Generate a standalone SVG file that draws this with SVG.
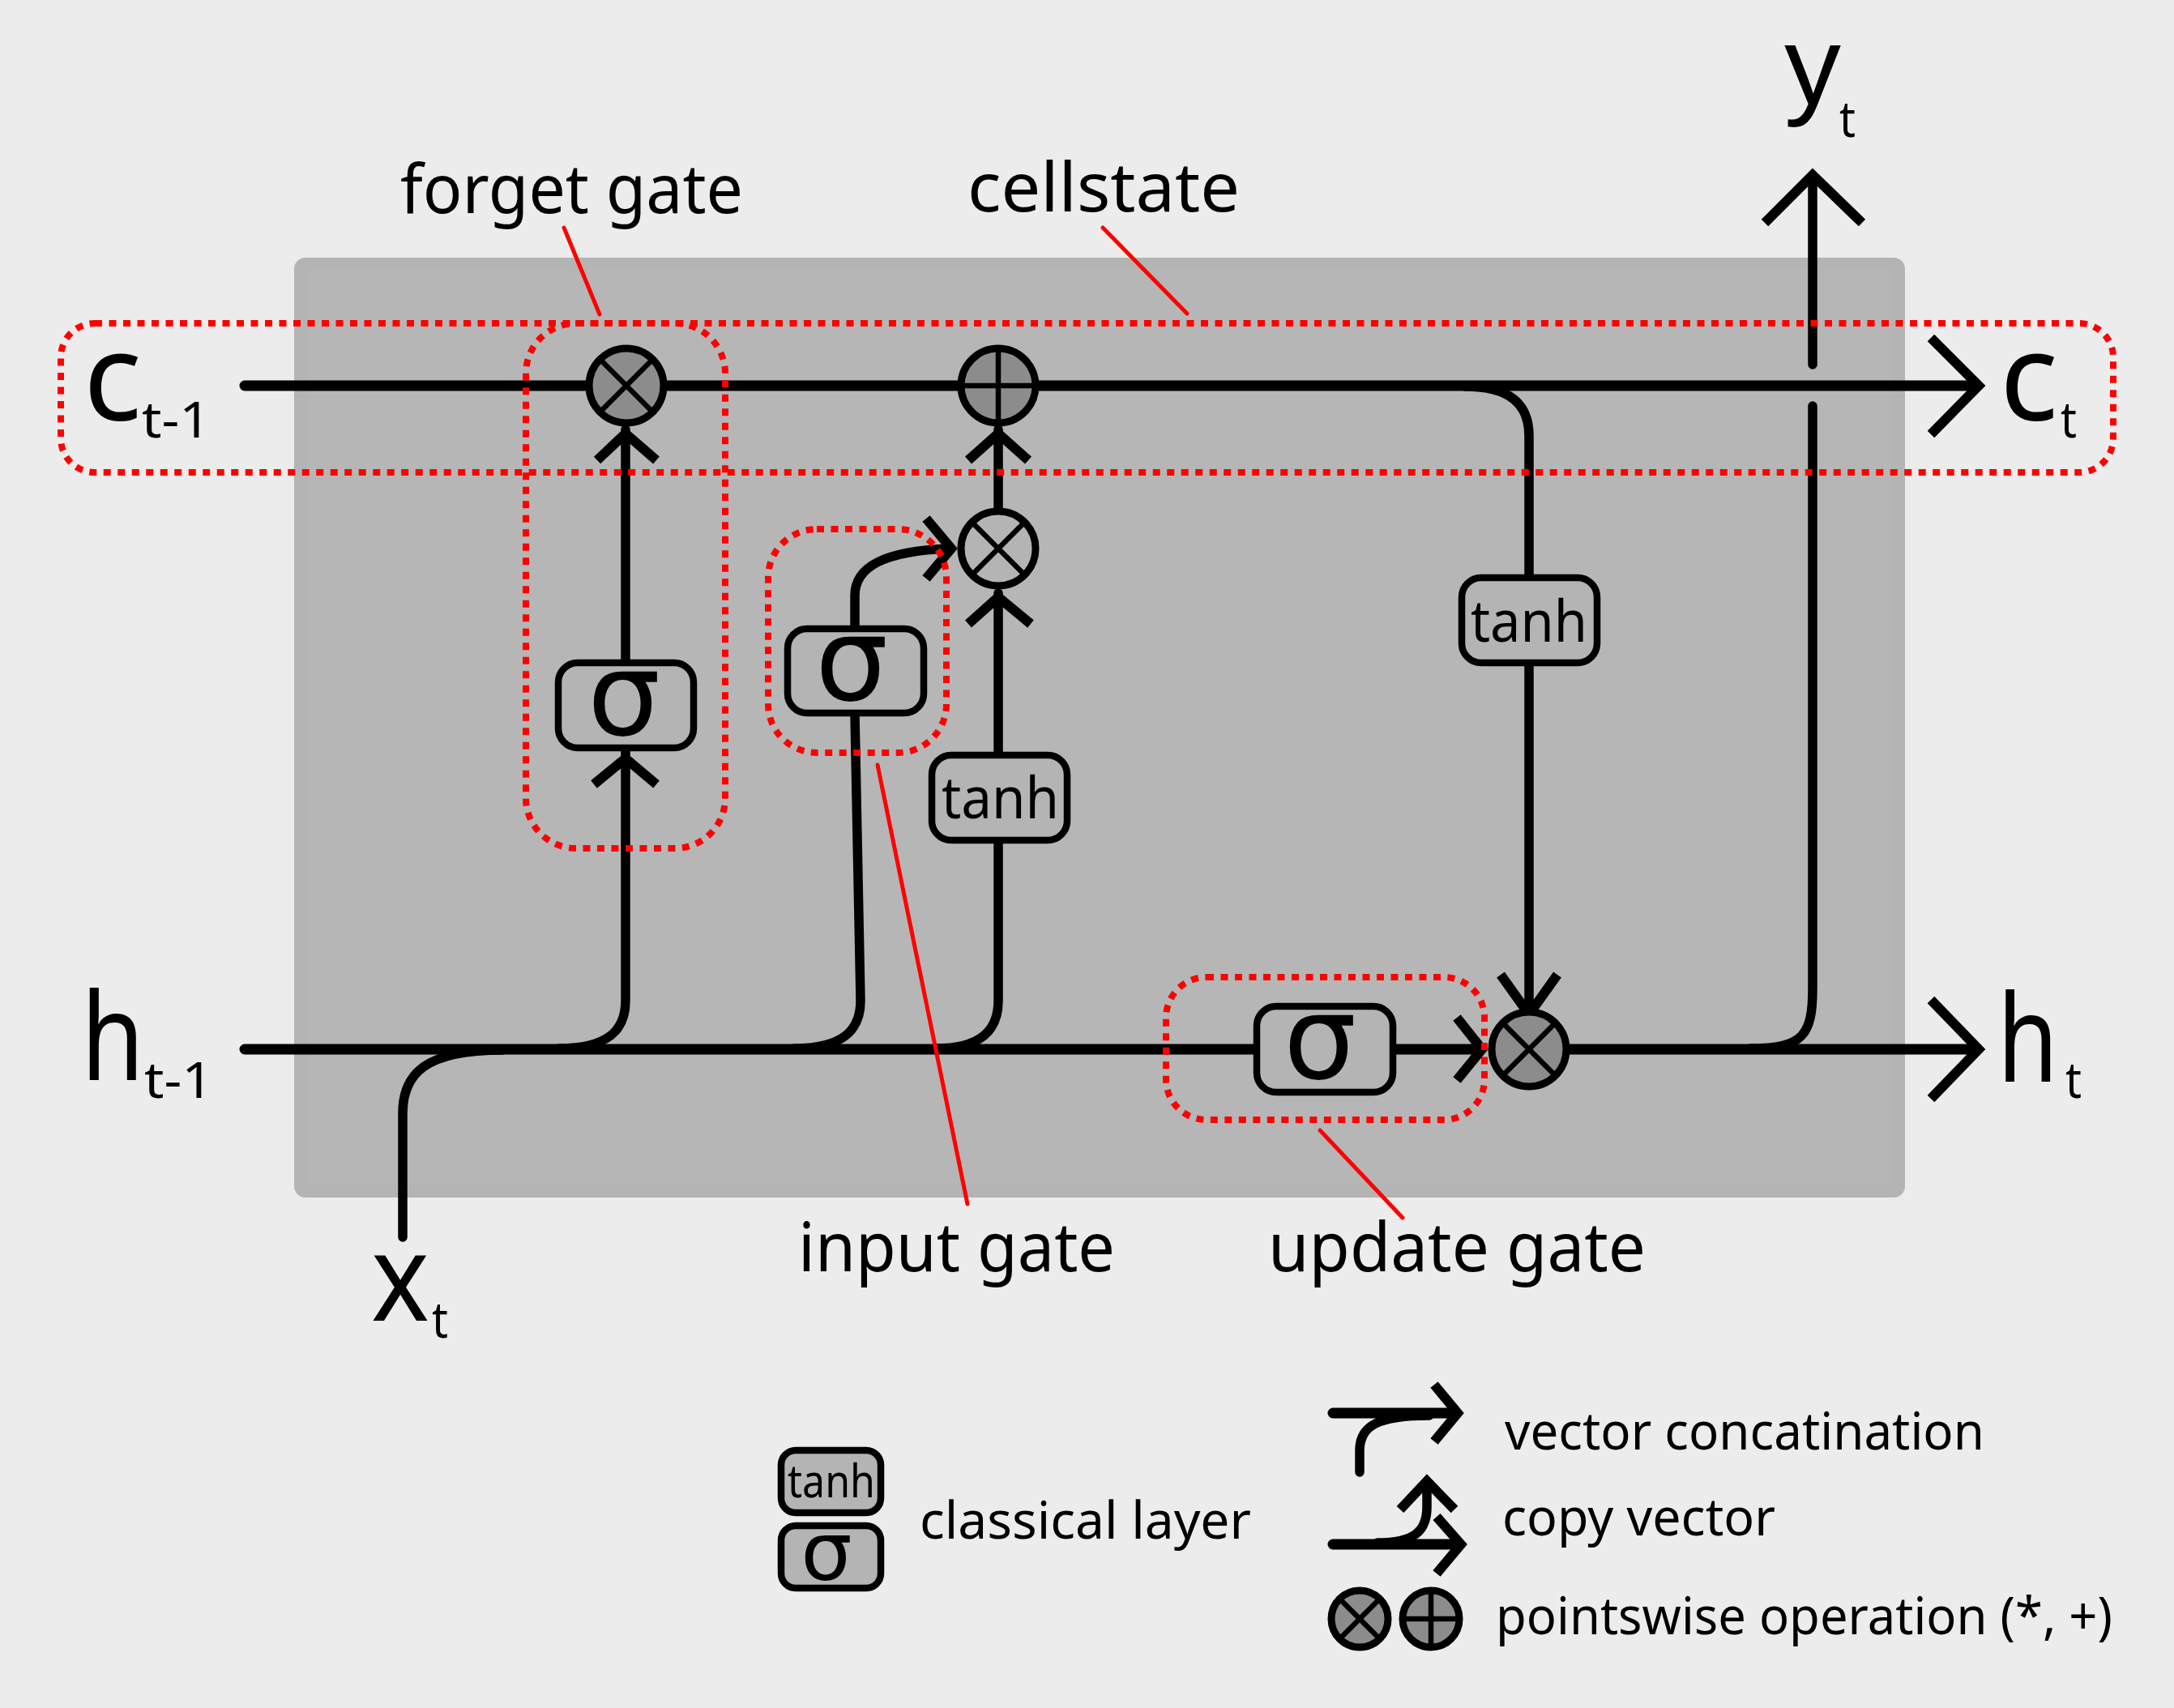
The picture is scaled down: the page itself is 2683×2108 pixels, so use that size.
<svg xmlns="http://www.w3.org/2000/svg" width="2683" height="2108" viewBox="0 0 2683 2108">
<style>
.w{fill:none;stroke:#000;stroke-width:11.5;stroke-linecap:round}
.t{fill:none;stroke:#000;stroke-width:13;stroke-linecap:round}
.h{fill:none;stroke:#000;stroke-width:12;stroke-linejoin:miter}
.g{stroke:#000;stroke-width:9;fill:#8c8c8c}
.gs{stroke:#000;stroke-width:9;fill:#b4b4b4}
.x{stroke:#000;stroke-width:6.5;fill:none}
.b{stroke:#000;stroke-width:8.5;fill:#b4b4b4}
.d{fill:none;stroke:#f00;stroke-width:8;stroke-dasharray:9 8.5}
.r{fill:none;stroke:#f00;stroke-width:5;stroke-linecap:round}
text{font-family:"Noto Sans","Open Sans",sans-serif;fill:#000}
.m{font-size:150px}
.s{font-size:62px}
.l{font-size:84px}
.k{font-size:64px}
.sg{font-family:"DejaVu Sans",sans-serif;text-anchor:middle;font-size:142px}
</style>
<rect width="2683" height="2108" fill="#ececec"/>
<g id="panel">
<rect x="363" y="318" width="1988" height="1160" rx="14" fill="#b4b4b4"/>
<rect x="379" y="334" width="1955" height="1127" fill="#b6b6b6"/>
</g>
<g id="connectors">
<path class="t" d="M302 476H2440"/>
<path class="t" d="M302 1295H1825M1887 1295H2440"/>
<path class="w" d="M772 530V1235C772 1272 750 1294 690 1294"/>
<path class="w" d="M1055 882L1062 1235C1062 1272 1040 1294 980 1294"/>
<path class="w" d="M1232 530V627M1232 732V1235C1232 1272 1210 1294 1154 1294"/>
<path class="w" d="M497 1527V1374C497 1325 525 1296 620 1296"/>
<path class="w" d="M1055 773V735C1055 700 1090 680 1172 677"/>
<path class="w" d="M1808 477C1865 477 1887 500 1887 538V1248"/>
<path class="w" d="M2237 450V220M2237 501V1220C2237 1278 2225 1294 2160 1294"/>
<path class="h" d="M2383 417L2442 476L2383 536"/>
<path class="h" d="M2383 1234L2442 1295L2383 1356"/>
<path class="h" d="M2178 275L2237 216L2298 275"/>
<path class="h" d="M737 568L772 535L810 568"/>
<path class="h" d="M733 968L772 936L810 968"/>
<path class="h" d="M1195 568L1232 535L1269 568"/>
<path class="h" d="M1195 770L1232 737L1272 770"/>
<path class="h" d="M1143 640L1174 677L1143 714"/>
<path class="h" d="M1798 1256L1829 1295L1798 1333"/>
<path class="h" d="M1852 1203L1887 1252L1922 1203"/>
</g>
<g id="gate-forget"><circle class="g" cx="773" cy="476" r="46"/><path class="x" d="M742 445L804 507M742 507L804 445"/></g>
<g id="gate-add"><circle class="g" cx="1232" cy="476" r="46"/><path class="x" d="M1232 429V523M1185 476H1279"/></g>
<g id="gate-input"><circle class="gs" cx="1232" cy="677" r="46"/><path class="x" d="M1201 646L1263 708M1201 708L1263 646"/></g>
<g id="gate-update"><circle class="g" cx="1887" cy="1295" r="46"/><path class="x" d="M1856 1264L1918 1326M1856 1326L1918 1264"/></g>
<g id="sigma-forget"><rect class="b" x="689" y="818" width="167" height="105" rx="24"/><text class="sg" x="770" y="907">σ</text></g>
<g id="sigma-input"><rect class="b" x="972" y="776" width="168" height="104" rx="24"/><text class="sg" x="1051" y="864">σ</text></g>
<g id="tanh-1"><rect class="b" x="1150" y="932" width="167" height="105" rx="24"/><text x="1162" y="1010" font-size="72" textLength="145" lengthAdjust="spacingAndGlyphs">tanh</text></g>
<g id="tanh-2"><rect class="b" x="1804" y="713" width="167" height="105" rx="24"/><text x="1815" y="792" font-size="72" textLength="144" lengthAdjust="spacingAndGlyphs">tanh</text></g>
<g id="sigma-update"><rect class="b" x="1551" y="1242" width="168" height="106" rx="24"/><text class="sg" x="1629" y="1331">σ</text></g>
<g id="highlights">
<rect class="d" x="75" y="399" width="2533" height="184" rx="42"/>
<rect class="d" x="649" y="399" width="246" height="648" rx="62"/>
<rect class="d" x="948" y="653" width="220" height="276" rx="60"/>
<rect class="d" x="1439" y="1206" width="393" height="176" rx="50"/>
<path class="r" d="M696 281L740 388M1361 281L1465 387M1083 944L1194 1486M1629 1395L1731 1503"/>
</g>
<g id="labels">
<text class="l" x="494" y="263" textLength="423" lengthAdjust="spacingAndGlyphs">forget gate</text>
<text class="l" x="1194" y="261" textLength="336" lengthAdjust="spacingAndGlyphs">cellstate</text>
<text class="l" x="985" y="1569" textLength="391" lengthAdjust="spacingAndGlyphs">input gate</text>
<text class="l" x="1565" y="1569" textLength="466" lengthAdjust="spacingAndGlyphs">update gate</text>
<text><tspan class="m" x="103" y="519" textLength="72" lengthAdjust="spacingAndGlyphs">c</tspan><tspan class="s" x="175" y="540" textLength="85" lengthAdjust="spacingAndGlyphs">t-1</tspan></text>
<text><tspan class="m" x="100" y="1333" textLength="78" lengthAdjust="spacingAndGlyphs">h</tspan><tspan class="s" x="178" y="1355" textLength="85" lengthAdjust="spacingAndGlyphs">t-1</tspan></text>
<text><tspan class="m" x="2468" y="519" textLength="72" lengthAdjust="spacingAndGlyphs">c</tspan><tspan class="s" x="2543" y="540" textLength="20" lengthAdjust="spacingAndGlyphs">t</tspan></text>
<text><tspan class="m" x="2465" y="1335" textLength="75" lengthAdjust="spacingAndGlyphs">h</tspan><tspan class="s" x="2549" y="1355" textLength="20" lengthAdjust="spacingAndGlyphs">t</tspan></text>
<text><tspan class="m" x="458" y="1630" textLength="72" lengthAdjust="spacingAndGlyphs">x</tspan><tspan class="s" x="533" y="1651" textLength="20" lengthAdjust="spacingAndGlyphs">t</tspan></text>
<text><tspan style="font-family:'Liberation Sans',sans-serif" x="2202" y="128" font-size="138" textLength="70" lengthAdjust="spacingAndGlyphs">y</tspan><tspan class="s" x="2270" y="169" textLength="20" lengthAdjust="spacingAndGlyphs">t</tspan></text>
</g>
<g id="legend-layer">
<rect class="b" x="964" y="1790" width="123" height="77" rx="18"/>
<text x="972" y="1848" font-size="56" textLength="108" lengthAdjust="spacingAndGlyphs">tanh</text>
<rect class="b" x="964" y="1883" width="123" height="77" rx="18"/>
<text class="sg" x="1020" y="1950" style="font-size:100px">σ</text>
<text class="k" x="1135" y="1899" textLength="409" lengthAdjust="spacingAndGlyphs">classical layer</text>
</g>
<g id="legend-concat">
<path class="t" d="M1645 1744H1795"/>
<path class="h" d="M1770 1709L1799 1744L1770 1779"/>
<path class="w" d="M1678 1817V1790C1678 1760 1700 1747 1764 1747"/>
<text class="k" x="1857" y="1789" textLength="592" lengthAdjust="spacingAndGlyphs">vector concatination</text>
</g>
<g id="legend-copy">
<path class="t" d="M1645 1906H1797"/>
<path class="h" d="M1773 1872L1803 1906L1773 1942"/>
<path class="w" d="M1700 1904C1745 1904 1761 1890 1761 1860V1835"/>
<path class="h" d="M1728 1863L1761 1828L1795 1863"/>
<text class="k" x="1854" y="1895" textLength="337" lengthAdjust="spacingAndGlyphs">copy vector</text>
</g>
<g id="legend-ops">
<circle class="g" cx="1678" cy="1998" r="35"/><path class="x" d="M1655 1975L1701 2021M1655 2021L1701 1975"/>
<circle class="g" cx="1766" cy="1998" r="35"/><path class="x" d="M1766 1963V2033M1731 1998H1801"/>
<text class="k" x="1846" y="2017" textLength="761" lengthAdjust="spacingAndGlyphs">pointswise operation (*, +)</text>
</g>
</svg>
